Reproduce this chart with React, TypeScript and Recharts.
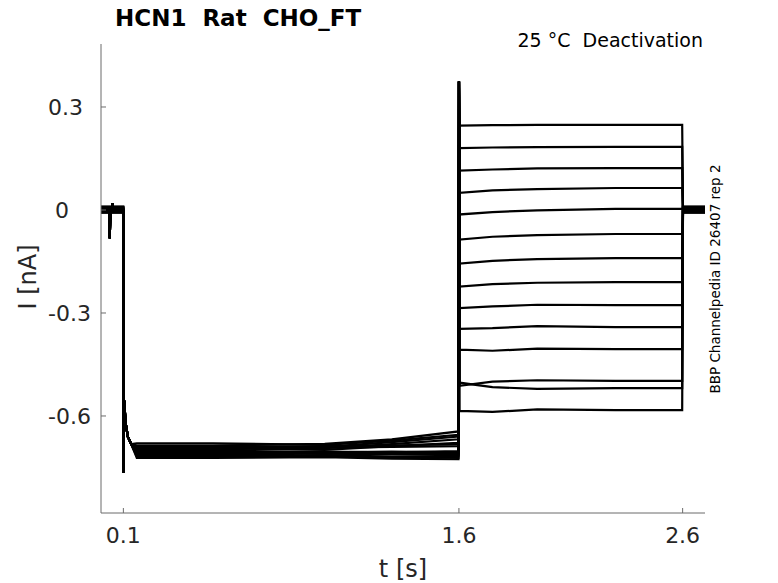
import { LineChart, Line, XAxis, YAxis } from "recharts"

// sweep time keypoints (s)
const times = [0, 0.038, 0.039, 0.041, 0.043, 0.051, 0.052, 0.054, 0.0995, 0.1002, 0.1035, 0.11, 0.12, 0.135, 0.16, 0.5, 1.0, 1.3, 1.598, 1.6002, 1.603, 1.75, 1.95, 2.3, 2.598, 2.6015, 2.604, 2.7]

// per-sweep levels (nA)
const baseline = [0.004, -0.003, 0.008, -0.006, 0.002, 0.01, -0.008, 0.005, -0.002, 0.007, -0.005, 0.001, 0.009, -0.007]
const holdA = [-0.68, -0.708, -0.694, -0.718, -0.686, -0.7, -0.69, -0.712, -0.697, -0.722, -0.688, -0.704, -0.694, -0.714]
const holdB = [-0.684, -0.704, -0.699, -0.714, -0.681, -0.706, -0.694, -0.71, -0.692, -0.72, -0.69, -0.71, -0.688, -0.718]
const holdC = [-0.672, -0.706, -0.688, -0.718, -0.668, -0.704, -0.682, -0.712, -0.69, -0.724, -0.676, -0.708, -0.686, -0.72]
const holdEnd = [-0.655, -0.702, -0.678, -0.718, -0.645, -0.706, -0.668, -0.714, -0.688, -0.726, -0.66, -0.71, -0.682, -0.722]
const tailStart = [0.246, 0.18, 0.115, 0.05, -0.013, -0.086, -0.156, -0.223, -0.286, -0.346, -0.407, -0.512, -0.503, -0.585]
const tailMid = [0.247, 0.182, 0.118, 0.057, -0.006, -0.078, -0.148, -0.216, -0.281, -0.344, -0.41, -0.5, -0.516, -0.588]
const tailEarly = [0.248, 0.183, 0.121, 0.061, -0.001, -0.073, -0.143, -0.212, -0.276, -0.338, -0.404, -0.496, -0.521, -0.581]
const tailLevel = [0.248, 0.184, 0.122, 0.064, 0.003, -0.07, -0.14, -0.21, -0.277, -0.341, -0.405, -0.498, -0.519, -0.583]

// shared waveform pieces (nA)
const dipLow = -0.082
const dipRecover = -0.03
const blip = 0.02
const onsetSpike = -0.765
const onsetRelax = [-0.555, -0.62, -0.66, -0.682]
const offsetSpike = 0.374

const xTicks = [0.1, 1.6, 2.6]
const yTicks = [-0.6, -0.3, 0, 0.3]

const ids = baseline.map((_, k) => "s" + k)

const pick = (row: number, k: number): number => {
  const t = times[row]
  if (row === 2) return dipLow
  if (row === 3) return dipRecover
  if (row === 6) return blip
  if (row === 9) return onsetSpike
  if (row >= 10 && row <= 13) return onsetRelax[row - 10]
  if (t < 0.1) return baseline[k]
  if (t === 0.16) return holdA[k]
  if (t === 0.5) return holdA[k]
  if (t === 1.0) return holdB[k]
  if (t === 1.3) return holdC[k]
  if (t === 1.598) return holdEnd[k]
  if (t === 1.6002) return offsetSpike
  if (t === 1.603) return tailStart[k]
  if (t === 1.75) return tailMid[k]
  if (t === 1.95) return tailEarly[k]
  if (t <= 2.598) return tailLevel[k]
  return baseline[k]
}

const data = times.map((t, row) => {
  const r: Record<string, number> = { t }
  ids.forEach((id, k) => { r[id] = pick(row, k) })
  return r
})

const AXIS = "#6b6b6b"
const FONT = "'DejaVu Sans', sans-serif"

const YTick = ({ x, y, payload }: any) => {
  const v = payload.value
  const label = v === 0 ? "0" : String(v)
  return (
    <g>
      <line x1={x} x2={x + 5} y1={y} y2={y} stroke={AXIS} />
      <text x={v === 0 ? x - 46 : x - 53} y={y + 8} textAnchor="start" fontSize={22} fontFamily={FONT} fill="#262626">{label}</text>
    </g>
  )
}

const XTick = ({ x, y, payload }: any) => (
  <g>
    <line x1={x} x2={x} y1={y} y2={y - 5} stroke={AXIS} />
    <text x={x} y={y + 30} textAnchor="middle" fontSize={22} fontFamily={FONT} fill="#262626">{String(payload.value)}</text>
  </g>
)

export default function App() {
  return (
    <div style={{ position: "absolute", left: 0, top: 0, width: 778, height: 583, background: "#fff" }}>
      <LineChart width={778} height={583} data={data} margin={{ top: 44, right: 73, bottom: 30, left: 41 }}>
        <XAxis
          dataKey="t" type="number" domain={[0, 2.7]} ticks={xTicks} height={40}
          tickSize={0} tickMargin={0} tickLine={false} tick={<XTick />}
          axisLine={{ stroke: AXIS }} allowDataOverflow
        />
        <YAxis
          type="number" domain={[-0.8826, 0.4835]} ticks={yTicks} width={60}
          tickSize={0} tickMargin={0} tickLine={false} tick={<YTick />}
          axisLine={{ stroke: AXIS }} allowDataOverflow
        />
        {ids.map((id) => (
          <Line key={id} dataKey={id} type="linear" stroke="#000" strokeWidth={2.2} dot={false} isAnimationActive={false} />
        ))}
      </LineChart>
      <svg width={778} height={583} style={{ position: "absolute", left: 0, top: 0, pointerEvents: "none" }}>
        <text x={115} y={26} fontSize={23} fontWeight="bold" fontFamily={FONT} fill="#000" style={{ whiteSpace: "pre" }}>{"HCN1  Rat  CHO_FT"}</text>
        <text x={703} y={47} textAnchor="end" fontSize={19} fontFamily={FONT} fill="#000" style={{ whiteSpace: "pre" }}>{"25 °C  Deactivation"}</text>
        <text x={403} y={577} textAnchor="middle" fontSize={24} fontFamily={FONT} fill="#262626">t [s]</text>
        <text transform="translate(36,277) rotate(-90)" textAnchor="middle" fontSize={24} fontFamily={FONT} fill="#262626">I [nA]</text>
        <text transform="translate(720,279) rotate(-90)" textAnchor="middle" fontSize={13.5} fontFamily={FONT} fill="#000">BBP Channelpedia ID 26407 rep 2</text>
      </svg>
    </div>
  )
}
